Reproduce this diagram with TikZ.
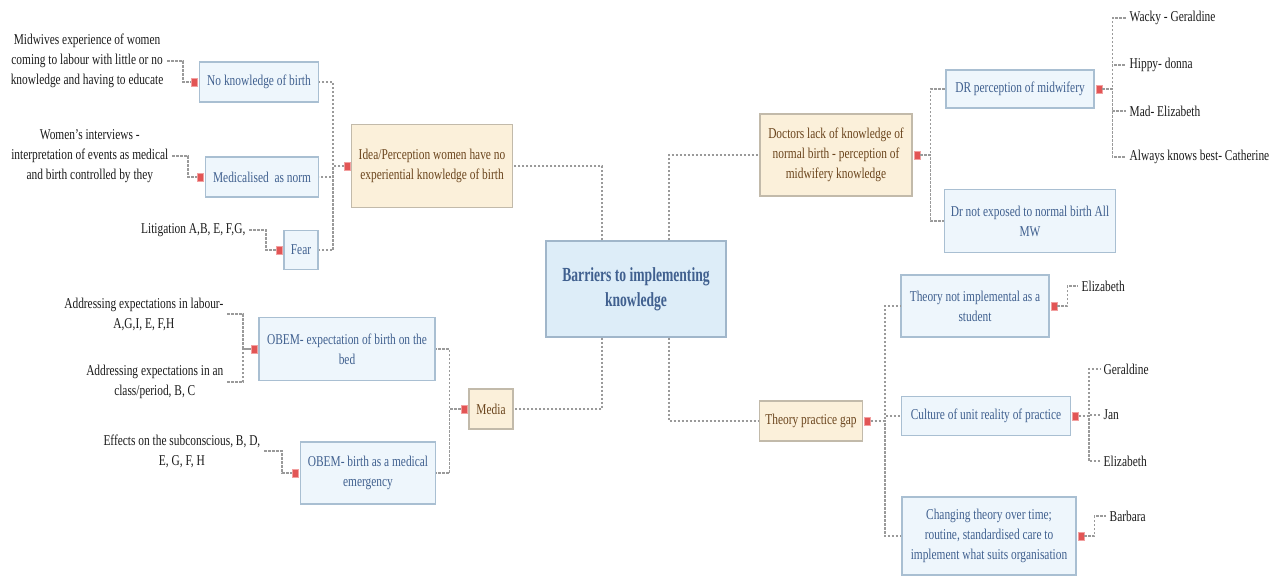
\documentclass[tikz,border=0pt]{standalone}
\usepackage{fontspec}
\setmainfont{Liberation Serif}[FakeStretch=0.76]
\newfontfamily\rootfont{Liberation Serif}[FakeStretch=0.68]
\usepackage{tikz}
\usetikzlibrary{calc}
\newdimen\upx \upx=0.6pt
\definecolor{boxblue}{HTML}{EEF6FC}
\definecolor{boxblueline}{HTML}{A9BFD2}
\definecolor{rootblue}{HTML}{DDEDF8}
\definecolor{rootline}{HTML}{A0B6CA}
\definecolor{boxtan}{HTML}{FBF0DA}
\definecolor{boxtanline}{HTML}{C2BAAA}
\definecolor{textblue}{HTML}{40608F}
\definecolor{texttan}{HTML}{6A441C}
\definecolor{leaftext}{HTML}{1A1A1A}
\definecolor{knobred}{HTML}{E25555}
\definecolor{knobline}{HTML}{F2A0A0}
\definecolor{linegray}{HTML}{9A9A9A}
\tikzset{
  every node/.style={font=\fontsize{9}{12}\selectfont},
  blue box/.style={draw=boxblueline, fill=boxblue, text=textblue, align=center, inner sep=1pt, line width=1.2\upx},
  tan box/.style={draw=boxtanline, fill=boxtan, text=texttan, align=center, inner sep=1pt, line width=1.2\upx},
  leaf/.style={text=leaftext, align=center, inner sep=2pt},
  knob/.style={draw=knobline, fill=knobred, minimum width=6\upx, minimum height=8\upx, inner sep=0pt, line width=0.8\upx},
  link/.style={draw=linegray, dash pattern=on 2.5\upx off 1.5\upx, line width=1.4\upx}
}

\begin{document}
\begin{tikzpicture}[x=1\upx,y=-1\upx]
\useasboundingbox (0,0) rectangle (1274,577);
\node[draw=rootline, fill=rootblue, text=textblue, align=center, minimum width=180\upx, minimum height=96\upx, line width=1.2\upx,
  font=\rootfont\bfseries\fontsize{12}{15}\selectfont] (root) at (636,289) {Barriers to implementing\\knowledge};

\node[tan box, minimum width=161\upx, minimum height=83\upx] (idea) at (432,166) {Idea/Perception women have no\\experiential knowledge of birth};
\node[blue box, minimum width=119\upx, minimum height=40\upx] (noknow) at (259,82) {No knowledge of birth};
\node[blue box, minimum width=113\upx, minimum height=40\upx] (medical) at (262,177) {Medicalised\ \ as norm};
\node[blue box, minimum width=34\upx, minimum height=39\upx] (fear) at (301,250) {Fear};
\node[knob, anchor=east] (ideaknob) at (idea.west) {};
\node[knob, anchor=east] (noknowknob) at ([xshift=-1\upx]noknow.west) {};
\node[knob, anchor=east] (medicalknob) at ([xshift=-1\upx]medical.west) {};
\node[knob, anchor=east] (fearknob) at ([xshift=-1\upx]fear.west) {};
\node[leaf, anchor=east] (midwives) at (167,61) {Midwives experience of women\\coming to labour with little or no\\knowledge and having to educate};
\node[leaf, anchor=east] (womens) at (172,156) {Women's interviews -\\interpretation of events as medical\\and birth controlled by they};
\node[leaf, anchor=east] (litigation) at (249,230) {Litigation A,B, E, F,G,};

\node[tan box, minimum width=44\upx, minimum height=40\upx] (media) at (491,409) {Media};
\node[blue box, minimum width=176\upx, minimum height=63\upx] (obembed) at (347,349) {OBEM- expectation of birth on the\\bed};
\node[blue box, minimum width=135\upx, minimum height=62\upx] (obememerg) at (368,473) {OBEM- birth as a medical\\emergency};
\node[knob, anchor=east] (mediaknob) at ([xshift=-1\upx]media.west) {};
\node[knob, anchor=east] (obembedknob) at ([xshift=-1\upx]obembed.west) {};
\node[knob, anchor=east] (obememergknob) at ([xshift=-1\upx]obememerg.west) {};
\node[leaf, anchor=east] (addlabour) at (227,314) {Addressing expectations in labour-\\A,G,I, E, F,H};
\node[leaf, anchor=east] (addclass) at (227,382) {Addressing expectations in an\\class/period, B, C};
\node[leaf, anchor=east] (effects) at (264,451) {Effects on the subconscious, B, D,\\E, G, F, H};

\node[tan box, minimum width=152\upx, minimum height=82\upx] (doctors) at (836,155) {Doctors lack of knowledge of\\normal birth - perception of\\midwifery knowledge};
\node[blue box, minimum width=148\upx, minimum height=38\upx] (drperc) at (1020,89) {DR perception of midwifery};
\node[blue box, minimum width=171\upx, minimum height=63\upx] (drnot) at (1030,221) {Dr not exposed to normal birth All\\MW};
\node[knob, anchor=west] (doctorsknob) at ([xshift=1\upx]doctors.east) {};
\node[knob, anchor=west] (drpercknob) at ([xshift=1\upx]drperc.east) {};
\node[leaf, anchor=west] (wacky) at (1126,18) {Wacky - Geraldine};
\node[leaf, anchor=west] (hippy) at (1126,65) {Hippy- donna};
\node[leaf, anchor=west] (mad) at (1126,111) {Mad- Elizabeth};
\node[leaf, anchor=west] (always) at (1126,157) {Always knows best- Catherine};

\node[tan box, minimum width=103\upx, minimum height=40\upx] (gap) at (811,421) {Theory practice gap};
\node[blue box, minimum width=148\upx, minimum height=62\upx] (theorynot) at (975,306) {Theory not implemental as a\\student};
\node[blue box, minimum width=169\upx, minimum height=39\upx] (culture) at (986,416) {Culture of unit reality of practice};
\node[blue box, minimum width=174\upx, minimum height=78\upx] (changing) at (989,536) {Changing theory over time;\\routine, standardised care to\\implement what suits organisation};
\node[knob, anchor=west] (gapknob) at ([xshift=1\upx]gap.east) {};
\node[knob, anchor=west] (theorynotknob) at ([xshift=1\upx]theorynot.east) {};
\node[knob, anchor=west] (cultureknob) at ([xshift=1\upx]culture.east) {};
\node[knob, anchor=west] (changingknob) at ([xshift=1\upx]changing.east) {};
\node[leaf, anchor=west] (elizstudent) at (1078,286) {Elizabeth};
\node[leaf, anchor=west] (geraldine) at (1100,369) {Geraldine};
\node[leaf, anchor=west] (jan) at (1100,415) {Jan};
\node[leaf, anchor=west] (elizculture) at (1100,461) {Elizabeth};
\node[leaf, anchor=west] (barbara) at (1106,516) {Barbara};

\draw[link] ($(root.north)+(-34,0)$) |- (idea.east);
\draw[link] ($(root.north)+(33,0)$) |- (doctors.west);
\draw[link] ($(root.south)+(-34,0)$) |- (media.east);
\draw[link] ($(root.south)+(33,0)$) |- (gap.west);

\foreach \kid in {noknow,medical,fear}
  \draw[link] (ideaknob.west) -- ++(-11,0) |- (\kid.east);
\draw[link] (midwives.east) -- ++(16,0) |- (noknowknob.west);
\draw[link] (womens.east) -- ++(16,0) |- (medicalknob.west);
\draw[link] (litigation.east) -- ++(17,0) |- (fearknob.west);

\foreach \kid in {obembed,obememerg}
  \draw[link] (mediaknob.west) -- ++(-11,0) |- (\kid.east);
\draw[link] (addlabour.east) -- ++(16,0) |- (obembedknob.west);
\draw[link] (addclass.east) -- ++(16,0) |- (obembedknob.west);
\draw[link] (effects.east) -- ++(18,0) |- (obememergknob.west);

\foreach \kid in {drperc,drnot}
  \draw[link] (doctorsknob.east) -- ++(10,0) |- (\kid.west);
\foreach \kid in {wacky,hippy,mad,always}
  \draw[link] (drpercknob.east) -- ++(10,0) |- (\kid.west);

\foreach \kid in {theorynot,culture,changing}
  \draw[link] (gapknob.east) -- ++(14,0) |- (\kid.west);
\draw[link] (theorynotknob.east) -- ++(10,0) |- (elizstudent.west);
\foreach \kid in {geraldine,jan,elizculture}
  \draw[link] (cultureknob.east) -- ++(10,0) |- (\kid.west);
\draw[link] (changingknob.east) -- ++(10,0) |- (barbara.west);
\end{tikzpicture}
\end{document}
